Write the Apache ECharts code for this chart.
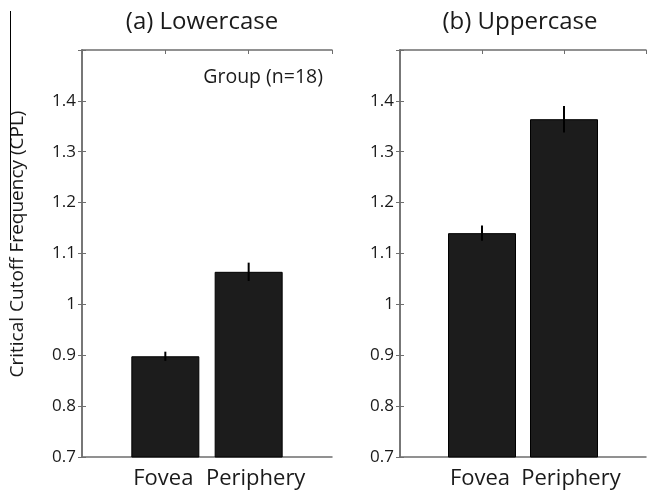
<!DOCTYPE html>
<html>
<head>
<meta charset="utf-8">
<script src="https://cdn.jsdelivr.net/npm/echarts@6/dist/echarts.min.js"></script>
<style>
  html, body { margin: 0; padding: 0; background: #fff; }
  #chart { width: 649px; height: 493px; }
</style>
</head>
<body>
<div id="chart"></div>
<script>
// Conditions on the x axis (positions 1 and 2)
const categories = ['Fovea', 'Periphery'];

// Mean critical cutoff frequency and standard error, per panel
const lowercaseMeans = [0.898, 1.064];
const lowercaseErr   = [0.009, 0.018];
const uppercaseMeans = [1.140, 1.364];
const uppercaseErr   = [0.015, 0.026];

const panelTitles = ['(a) Lowercase', '(b) Uppercase'];
const yAxisTitle = 'Critical Cutoff Frequency (CPL)';
const groupNote = 'Group (n=18)';

const Y_MIN = 0.7, Y_MAX = 1.5, Y_STEP = 0.1;
const FONT = '"Open Sans", "Noto Sans", sans-serif';
const AXIS_COLOR = '#6e6e6e';
const TEXT_COLOR = '#1a1a1a';

const chart = echarts.init(document.getElementById('chart'), null, { renderer: 'canvas' });

const grids = [
  { left: 82, top: 50, width: 250, height: 407 },
  { left: 400, top: 50, width: 249, height: 407 }
];

function barData(means) {
  return means.map((v, i) => [i + 1, v]);
}
function errData(means, errs) {
  return means.map((v, i) => [i + 1, v - errs[i], v + errs[i]]);
}

const axisLine = { show: true, lineStyle: { color: AXIS_COLOR, width: 1.5 } };
const axisTick = { show: true, inside: true, length: 4, lineStyle: { color: AXIS_COLOR, width: 1 } };

// label styles: the two condition names sit slightly apart from each other
const xLabelRich = {
  first: { fontFamily: FONT, fontSize: 22, color: TEXT_COLOR, padding: [0, 4, 0, 0] },
  second: { fontFamily: FONT, fontSize: 22, color: TEXT_COLOR, padding: [0, 0, 0, 14] }
};

const xAxes = [];
const yAxes = [];
grids.forEach((g, gi) => {
  // bottom axis with condition labels
  xAxes.push({
    gridIndex: gi, type: 'value', position: 'bottom',
    min: 0, max: 3, interval: 1,
    axisLine, axisTick: { show: false }, splitLine: { show: false },
    axisLabel: {
      margin: 11, color: TEXT_COLOR, fontFamily: FONT, fontSize: 22,
      rich: xLabelRich,
      formatter: v => {
        if (v === 1) return '{first|' + categories[0] + '}';
        if (v === 2) return '{second|' + categories[1] + '}';
        return '';
      }
    }
  });
  // top border with inward ticks at the bar centres
  xAxes.push({
    gridIndex: gi, type: 'value', position: 'top',
    min: 0, max: 3, interval: 1,
    axisLine, axisTick, splitLine: { show: false }, axisLabel: { show: false }
  });
  yAxes.push({
    gridIndex: gi, type: 'value', position: 'left',
    min: Y_MIN, max: Y_MAX, interval: Y_STEP,
    axisLine, axisTick, splitLine: { show: false },
    axisLabel: {
      margin: 6, color: TEXT_COLOR, fontFamily: FONT, fontSize: 17,
      formatter: v => (Math.abs(v - Y_MAX) < 1e-6 ? '' : String(Math.round(v * 10) / 10))
    }
  });
  yAxes.push({
    gridIndex: gi, type: 'value', position: 'right',
    min: Y_MIN, max: Y_MAX, interval: Y_STEP,
    axisLine, axisTick, splitLine: { show: false }, axisLabel: { show: false }
  });
});

function errorRender(params, api) {
  const x = api.value(0);
  const lo = api.coord([x, api.value(1)]);
  const hi = api.coord([x, api.value(2)]);
  return {
    type: 'line',
    shape: { x1: lo[0], y1: lo[1], x2: hi[0], y2: hi[1] },
    style: { stroke: '#000', lineWidth: 2 }
  };
}

const panels = [
  { means: lowercaseMeans, errs: lowercaseErr },
  { means: uppercaseMeans, errs: uppercaseErr }
];

const series = [];
panels.forEach((p, gi) => {
  series.push({
    type: 'bar', xAxisIndex: gi * 2, yAxisIndex: gi * 2,
    data: barData(p.means), barWidth: 68, clip: true,
    itemStyle: { color: '#1c1c1c', borderColor: '#000', borderWidth: 1 },
    silent: true
  });
  series.push({
    type: 'custom', xAxisIndex: gi * 2, yAxisIndex: gi * 2,
    data: errData(p.means, p.errs), renderItem: errorRender,
    encode: { x: 0, y: [1, 2] }, z: 5, silent: true
  });
});

chart.setOption({
  animation: false,
  backgroundColor: '#fff',
  grid: grids,
  xAxis: xAxes,
  yAxis: yAxes,
  series,
  graphic: [
    {
      type: 'text', x: 202, y: 22,
      style: { text: panelTitles[0], fill: TEXT_COLOR, font: '24px ' + FONT, textAlign: 'center', textVerticalAlign: 'middle' }
    },
    {
      type: 'text', x: 520, y: 22,
      style: { text: panelTitles[1], fill: TEXT_COLOR, font: '24px ' + FONT, textAlign: 'center', textVerticalAlign: 'middle' }
    },
    {
      type: 'text', x: 323, y: 77,
      style: { text: groupNote, fill: TEXT_COLOR, font: '19.5px ' + FONT, textAlign: 'right', textVerticalAlign: 'middle' }
    },
    {
      type: 'text', x: 18, y: 244, rotation: Math.PI / 2,
      style: { text: yAxisTitle, fill: TEXT_COLOR, font: '19px ' + FONT, textAlign: 'center', textVerticalAlign: 'middle' }
    },
    {
      type: 'line', shape: { x1: 10.5, y1: 11, x2: 10.5, y2: 240 },
      style: { stroke: '#000', lineWidth: 1 }
    }
  ]
});
</script>
</body>
</html>
